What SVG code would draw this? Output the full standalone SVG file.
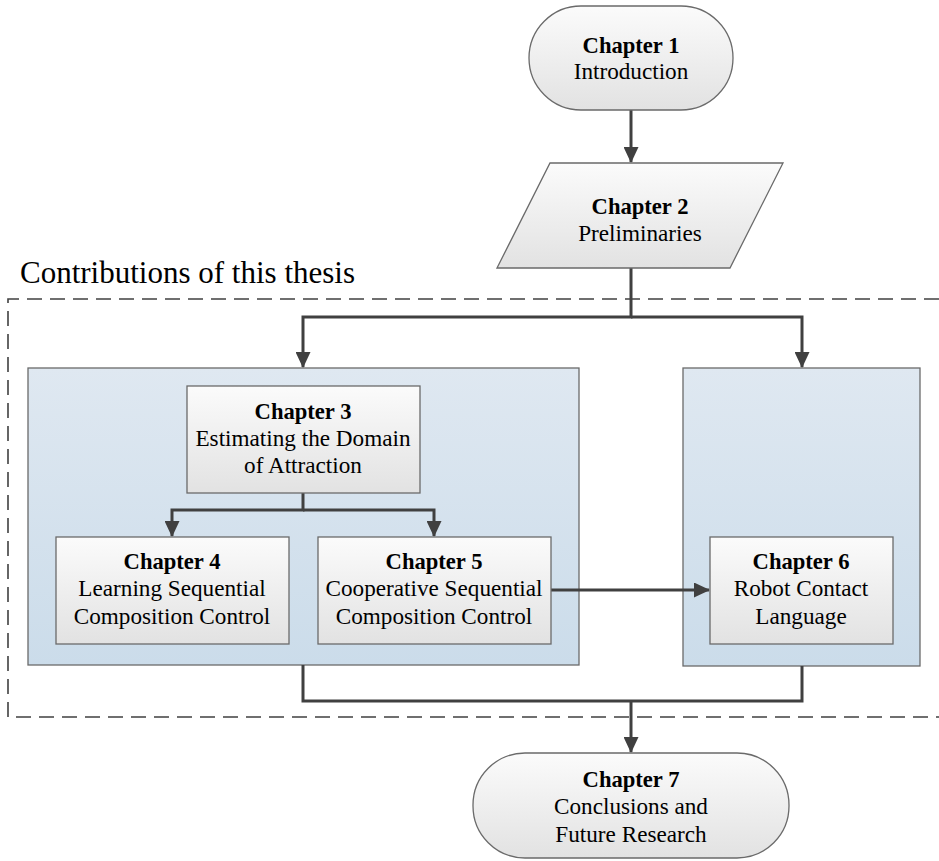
<svg xmlns="http://www.w3.org/2000/svg" width="939" height="861" viewBox="0 0 939 861">
<defs>
<linearGradient id="gNode" x1="0" y1="0" x2="0" y2="1"><stop offset="0" stop-color="#fbfbfb"/><stop offset="1" stop-color="#e2e2e2"/></linearGradient>
<linearGradient id="gCont" x1="0" y1="0" x2="0" y2="1"><stop offset="0" stop-color="#dfe8f1"/><stop offset="1" stop-color="#cbdcea"/></linearGradient>
<marker id="ah" markerWidth="16" markerHeight="15" refX="15" refY="7.5" orient="auto" markerUnits="userSpaceOnUse"><path d="M0,0 L16,7.5 L0,15 Z" fill="#404040"/></marker>
<style>
.node{fill:url(#gNode);stroke:#6a6a6a;stroke-width:1.3}
.cont{fill:url(#gCont);stroke:#6a6a6a;stroke-width:1.3}
.conn{fill:none;stroke:#404040;stroke-width:3}
.t{font-family:"Liberation Serif","Times New Roman",serif;font-size:23.2px;fill:#000;text-anchor:middle}
.b{font-weight:bold;font-size:22.6px}
</style>
</defs>
<text x="20" y="283" style="font-family:'Liberation Serif','Times New Roman',serif;font-size:31px;fill:#000">Contributions of this thesis</text>
<path d="M939,299 H8 V717 H939" fill="none" stroke="#404040" stroke-width="1.6" stroke-dasharray="15,8"/>
<g id="cont-left"><rect class="cont" x="28" y="368" width="551" height="297"/></g>
<g id="cont-right"><rect class="cont" x="683" y="368" width="237" height="298"/></g>
<g id="connectors">
<path class="conn" d="M631,110 V162" marker-end="url(#ah)"/>
<path class="conn" d="M631,268 V317 H303 V367" marker-end="url(#ah)"/>
<path class="conn" d="M631,317 H802 V367" marker-end="url(#ah)"/>
<path class="conn" d="M303,493 V510 H172 V536" marker-end="url(#ah)"/>
<path class="conn" d="M303,510 H434 V536" marker-end="url(#ah)"/>
<path class="conn" d="M551,590 H709" marker-end="url(#ah)"/>
<path class="conn" d="M303,665 V701 H802 V666"/>
<path class="conn" d="M631,701 V752" marker-end="url(#ah)"/>
</g>
<g id="ch1"><rect class="node" x="529" y="6" width="204" height="104" rx="52" ry="52"/><text class="t b" x="631" y="53">Chapter 1</text><text class="t" x="631" y="79">Introduction</text></g>
<g id="ch2"><path class="node" d="M550,163 H783 L730,268 H497 Z"/><text class="t b" x="640" y="214">Chapter 2</text><text class="t" x="640" y="241">Preliminaries</text></g>
<g id="ch3"><rect class="node" x="187" y="386" width="233" height="107"/><text class="t b" x="303" y="419">Chapter 3</text><text class="t" x="303" y="446">Estimating the Domain</text><text class="t" x="303" y="473">of Attraction</text></g>
<g id="ch4"><rect class="node" x="56" y="537" width="233" height="107"/><text class="t b" x="172" y="569">Chapter 4</text><text class="t" x="172" y="596">Learning Sequential</text><text class="t" x="172" y="624">Composition Control</text></g>
<g id="ch5"><rect class="node" x="318" y="537" width="233" height="107"/><text class="t b" x="434" y="569">Chapter 5</text><text class="t" x="434" y="596">Cooperative Sequential</text><text class="t" x="434" y="624">Composition Control</text></g>
<g id="ch6"><rect class="node" x="710" y="537" width="183" height="107"/><text class="t b" x="801" y="569">Chapter 6</text><text class="t" x="801" y="596">Robot Contact</text><text class="t" x="801" y="624">Language</text></g>
<g id="ch7"><rect class="node" x="473" y="753" width="316" height="105" rx="52" ry="52"/><text class="t b" x="631" y="787">Chapter 7</text><text class="t" x="631" y="814">Conclusions and</text><text class="t" x="631" y="842">Future Research</text></g>
</svg>
